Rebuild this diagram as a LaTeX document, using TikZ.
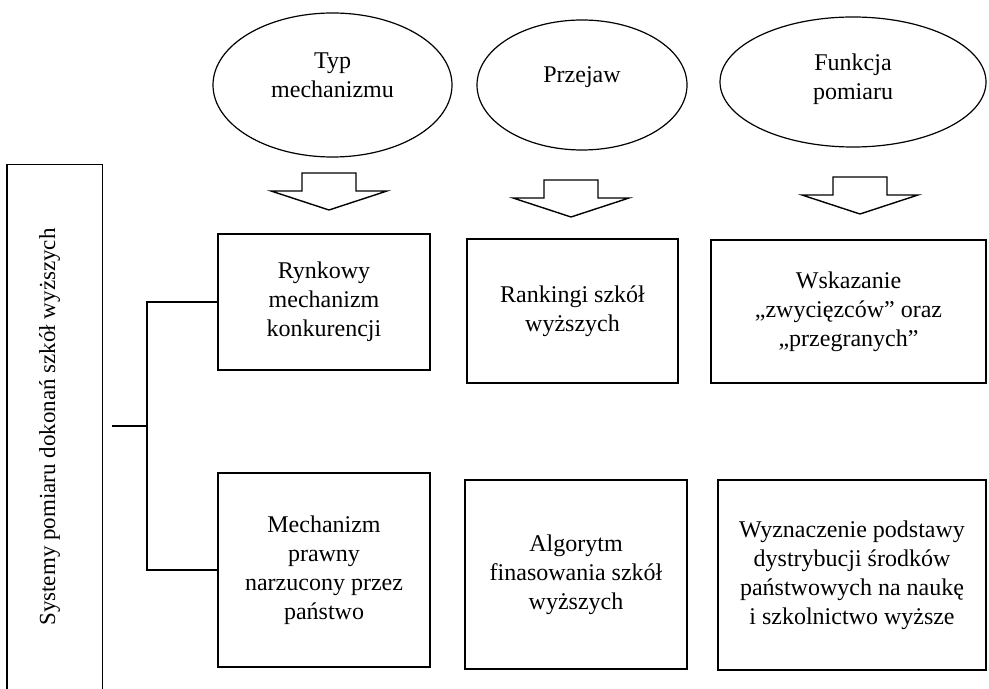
\documentclass[tikz,border=0pt]{standalone}
\usepackage{fontspec}
\setmainfont{Liberation Serif}
\usetikzlibrary{shapes.geometric}

\begin{document}
\begin{tikzpicture}[x=0.5pt,y=-0.5pt,
    txt/.style={font=\fontsize{12}{14.5}\selectfont,align=center,inner sep=0pt},
    box/.style={txt,draw,line width=0.9pt,rectangle},
    oval/.style={txt,draw,line width=0.6pt,ellipse,text depth=10pt},
    blockarrow/.pic={\draw[line width=0.7pt] (-27,0) -- (27,0) -- (27,18) -- (58,18) -- (0,37) -- (-58,18) -- (-27,18) -- cycle;}]
    \useasboundingbox (0,0) rectangle (989,689);

    \node[oval,minimum width=119.5pt,minimum height=72pt] (typ)     at (332.5,85) {Typ\\mechanizmu};
    \node[oval,minimum width=105pt,minimum height=65pt]   (przejaw) at (582,85)   {Przejaw};
    \node[oval,minimum width=133pt,minimum height=65pt,text depth=5pt] (funkcja) at (853,82) {Funkcja\\pomiaru};

    \pic at (329,173) {blockarrow};
    \pic at (571,180) {blockarrow};
    \pic at (860,177) {blockarrow};

    \node[box,minimum width=106pt,minimum height=68pt]    (rynek)       at (324,302)   {Rynkowy\\mechanizm\\konkurencji};
    \node[box,minimum width=105.5pt,minimum height=72pt]  (rankingi)    at (572.5,311) {Rankingi szkół\\wyższych};
    \node[box,minimum width=137.5pt,minimum height=71.5pt](zwyciezcy)   at (848.5,311.5) {Wskazanie\\„zwycięzców” oraz\\„przegranych”};
    \node[box,minimum width=106pt,minimum height=97pt]    (prawo)       at (324,570)   {Mechanizm\\prawny\\narzucony przez\\państwo};
    \node[box,minimum width=111pt,minimum height=94.5pt]  (algorytm)    at (576,574.5) {Algorytm\\finasowania szkół\\wyższych};
    \node[box,minimum width=134pt,minimum height=95pt]    (dystrybucja) at (852,575)   {Wyznaczenie podstawy\\dystrybucji środków\\państwowych na naukę\\i szkolnictwo wyższe};

    \node[txt,font=\fontsize{11.5}{14}\selectfont,minimum width=47.5pt,minimum height=262pt] (system) at (54.5,427)
      {\rotatebox{90}{Systemy pomiaru dokonań szkół wyższych}\hspace{5pt}};
    \draw[line width=0.9pt] (system.south west) |- (system.north east) -- (system.south east);

    \coordinate (fork) at (147,426);
    \coordinate (stub) at (112,426);
    \draw[line width=0.6pt] (stub) -- (fork) (rynek.west) -| (fork) (prawo.west) -| (fork);
\end{tikzpicture}
\end{document}
